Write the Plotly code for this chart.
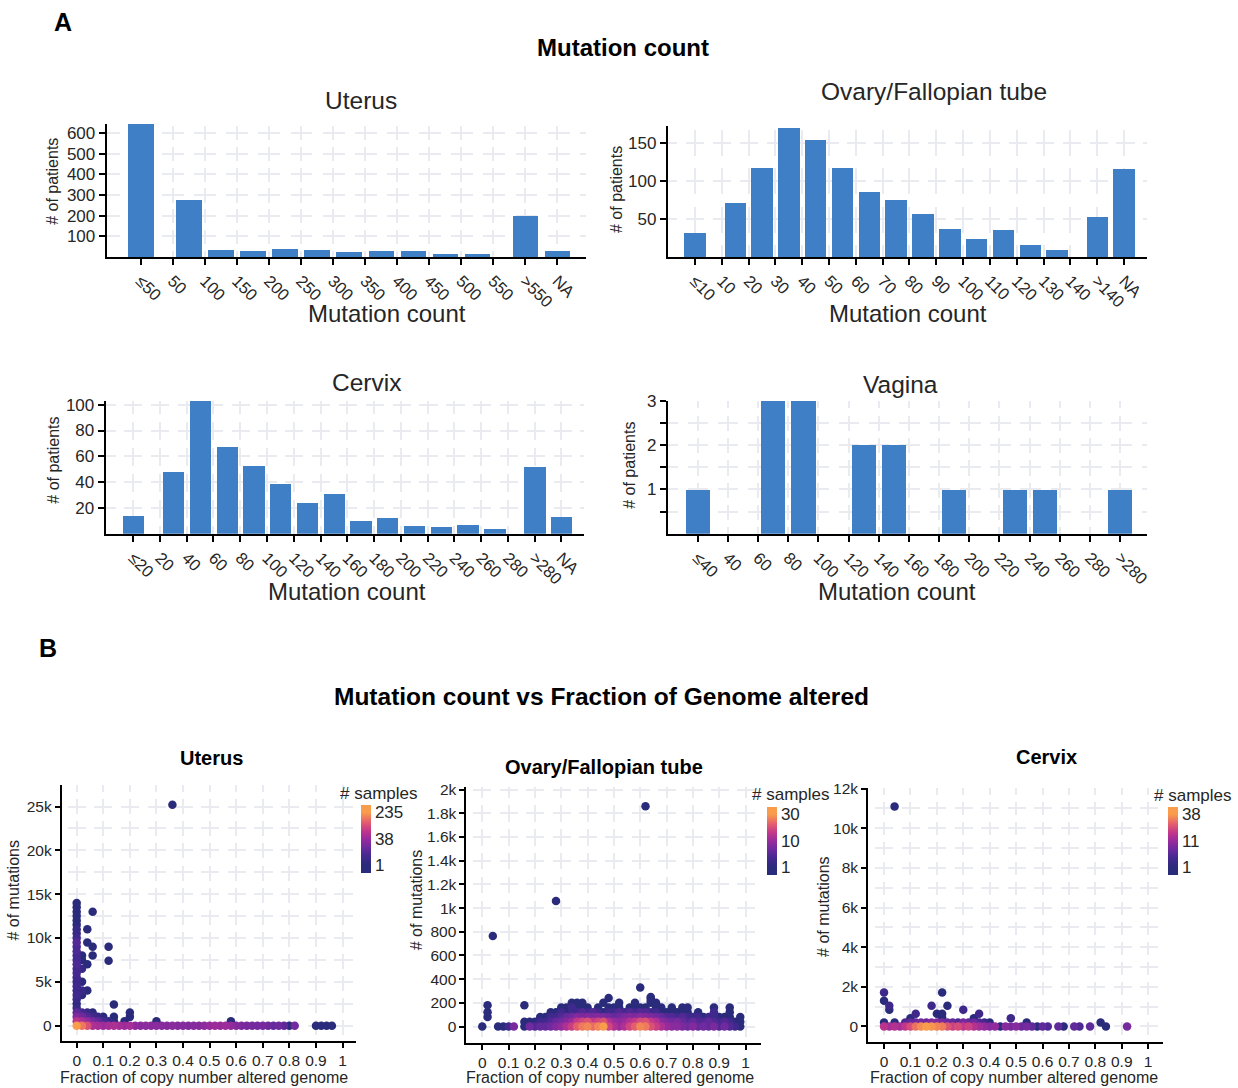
import numpy as np
import plotly.graph_objects as go

W, H = 1238, 1088
FONT = "Arial, Liberation Sans, Helvetica, sans-serif"
TXT = "#262626"
BAR = "#3f7fc5"
GRID = "#e9ebf0"

# ---------------- Panel A : histogram data ----------------
uterus_ticks = ["≤50", "50", "100", "150", "200", "250", "300", "350", "400", "450", "500", "550", ">550", "NA"]
uterus_bins = ["≤50", "50-100", "100-150", "150-200", "200-250", "250-300", "300-350", "350-400",
               "400-450", "450-500", "500-550", ">550", "NA"]
uterus_counts = [643, 276, 35, 31, 37, 32, 26, 27, 29, 14, 14, 196, 31]

ovary_ticks = ["≤10", "10", "20", "30", "40", "50", "60", "70", "80", "90", "100", "110", "120", "130", "140", ">140", "NA"]
ovary_bins = ["≤10", "10-20", "20-30", "30-40", "40-50", "50-60", "60-70", "70-80", "80-90", "90-100",
              "100-110", "110-120", "120-130", "130-140", ">140", "NA"]
ovary_counts = [32, 71, 117, 169, 154, 117, 85, 75, 56, 37, 23, 36, 16, 9, 53, 116]

cervix_ticks = ["≤20", "20", "40", "60", "80", "100", "120", "140", "160", "180", "200", "220", "240", "260", "280", ">280", "NA"]
cervix_bins = ["≤20", "20-40", "40-60", "60-80", "80-100", "100-120", "120-140", "140-160", "160-180",
               "180-200", "200-220", "220-240", "240-260", "260-280", ">280", "NA"]
cervix_counts = [14, 48, 103, 67, 53, 39, 24, 31, 10, 12, 6, 5, 7, 4, 52, 13]

vagina_ticks = ["≤40", "40", "60", "80", "100", "120", "140", "160", "180", "200", "220", "240", "260", "280", ">280"]
vagina_bins = ["≤40", "40-60", "60-80", "80-100", "100-120", "120-140", "140-160", "160-180", "180-200",
               "200-220", "220-240", "240-260", "260-280", ">280"]
vagina_counts = [1, 0, 3, 3, 0, 2, 2, 0, 1, 0, 1, 1, 0, 1]

# ---------------- Panel B : hexbin-like scatter data ----------------
xbins = [0.00, 0.02, 0.04, 0.06, 0.08, 0.10, 0.12, 0.14, 0.16, 0.18,
         0.20, 0.22, 0.24, 0.26, 0.28, 0.30, 0.32, 0.34, 0.36, 0.38,
         0.40, 0.42, 0.44, 0.46, 0.48, 0.50, 0.52, 0.54, 0.56, 0.58,
         0.60, 0.62, 0.64, 0.66, 0.68, 0.70, 0.72, 0.74, 0.76, 0.78,
         0.80, 0.82, 0.84, 0.86, 0.88, 0.90, 0.92, 0.94, 0.96, 0.98]

# Uterus
uterus_rows_y = [0, 500, 1000, 1500]
uterus_row_0 = [235, 160, 100, 50, 45, 40, 45, 50, 45, 40, 45, 30, 25, 28, 25, 28, 24, 22, 25, 22,
                24, 20, 24, 22, 28, 35, 40, 36, 40, 32, 22, 18, 16, 15, 14, 16, 12, 10, 12, 8,
                1, 14, 0, 0, 0, 1, 1, 1, 1, 0]
uterus_row_500 = [60, 45, 30, 15, 8, 4, 2, 1, 0, 1, 0, 0, 0, 0, 0, 1, 0, 0, 0, 0,
                  0, 0, 0, 0, 0, 0, 0, 0, 0, 1, 0, 0, 0, 0, 0, 0, 0, 0, 0, 0,
                  0, 0, 0, 0, 0, 0, 0, 0, 0, 0]
uterus_row_1000 = [20, 12, 6, 3, 2, 1, 0, 1, 0, 0, 1, 0, 0, 0, 0, 0, 0, 0, 0, 0,
                   0, 0, 0, 0, 0, 0, 0, 0, 0, 0, 0, 0, 0, 0, 0, 0, 0, 0, 0, 0,
                   0, 0, 0, 0, 0, 0, 0, 0, 0, 0]
uterus_row_1500 = [8, 4, 2, 1, 0, 0, 0, 0, 0, 0, 1, 0, 0, 0, 0, 0, 0, 0, 0, 0,
                   0, 0, 0, 0, 0, 0, 0, 0, 0, 0, 0, 0, 0, 0, 0, 0, 0, 0, 0, 0,
                   0, 0, 0, 0, 0, 0, 0, 0, 0, 0]
uterus_sparse_x = [0, 0, 0, 0, 0, 0, 0, 0, 0, 0, 0, 0, 0, 0, 0, 0, 0, 0, 0, 0, 0, 0, 0, 0, 0,
                   0.02, 0.02, 0.02, 0.02, 0.02, 0.02, 0.04, 0.04, 0.04, 0.04,
                   0.06, 0.06, 0.06, 0.12, 0.12, 0.14, 0.36]
uterus_sparse_y = [2000, 2500, 3000, 3500, 4000, 4500, 5000, 5500, 6000, 6500, 7000, 7500, 8000,
                   8500, 9000, 9500, 10000, 10500, 11000, 11500, 12000, 12500, 13000, 13500, 14000,
                   8000, 7500, 6500, 5000, 4000, 3500, 11000, 9500, 7000, 4000,
                   13000, 9000, 8000, 9000, 7400, 2400, 25200]
uterus_sparse_c = [2, 1, 2, 3, 2, 3, 2, 3, 4, 3, 5, 4, 3, 5, 4, 6, 3, 2, 2, 1, 1, 1, 1, 1, 1,
                   1, 1, 2, 1, 2, 1, 1, 1, 1, 1,
                   1, 1, 1, 1, 1, 1, 1]
uterus_cb_ticks = [1, 38, 235]

# Ovary / Fallopian tube
ovary_rows_y = [0, 40, 80, 120, 160, 200, 240]
ovary_row_0 = [1, 0, 0, 1, 1, 2, 6, 0, 1, 5, 3, 4, 4, 5, 7, 9, 12, 15, 20, 24,
               26, 22, 26, 30, 16, 12, 10, 12, 16, 20, 26, 24, 18, 15, 12, 10, 8, 8, 6, 5,
               7, 4, 5, 4, 6, 3, 5, 3, 2, 1]
ovary_row_40 = [0, 0, 0, 0, 0, 0, 0, 0, 1, 1, 1, 2, 2, 3, 4, 5, 7, 10, 14, 16,
                18, 14, 16, 18, 12, 10, 8, 10, 12, 14, 17, 18, 14, 12, 8, 6, 5, 6, 4, 3,
                4, 3, 3, 4, 3, 2, 3, 2, 1, 1]
ovary_row_80 = [0, 1, 0, 0, 0, 0, 0, 0, 0, 0, 0, 1, 1, 2, 2, 3, 4, 5, 7, 6,
                7, 6, 7, 6, 5, 4, 5, 6, 7, 6, 8, 7, 6, 5, 4, 3, 3, 2, 3, 2,
                2, 2, 1, 2, 2, 1, 1, 1, 0, 1]
ovary_row_120 = [0, 1, 0, 0, 0, 0, 0, 0, 0, 0, 0, 0, 0, 1, 1, 2, 1, 2, 2, 3,
                 2, 3, 2, 1, 2, 2, 3, 2, 3, 2, 3, 3, 2, 2, 1, 1, 1, 1, 1, 1,
                 0, 1, 0, 0, 2, 0, 0, 1, 0, 0]
ovary_row_160 = [0, 0, 0, 0, 0, 0, 0, 0, 0, 0, 0, 0, 0, 0, 0, 1, 1, 2, 1, 1,
                 1, 0, 1, 0, 1, 1, 1, 0, 1, 1, 1, 1, 0, 1, 1, 0, 1, 0, 1, 1,
                 0, 0, 0, 0, 1, 0, 0, 1, 0, 0]
ovary_row_200 = [0, 0, 0, 0, 0, 0, 0, 0, 0, 0, 0, 0, 0, 0, 0, 0, 0, 1, 1, 1,
                 0, 0, 0, 1, 0, 0, 1, 0, 0, 1, 0, 0, 1, 1, 0, 0, 0, 0, 0, 0,
                 0, 0, 0, 0, 0, 0, 0, 0, 0, 0]
ovary_row_240 = [0, 0, 0, 0, 0, 0, 0, 0, 0, 0, 0, 0, 0, 0, 0, 0, 0, 0, 0, 0,
                 0, 0, 0, 0, 1, 0, 0, 0, 0, 0, 0, 0, 1, 0, 0, 0, 0, 0, 0, 0,
                 0, 0, 0, 0, 0, 0, 0, 0, 0, 0]
ovary_sparse_x = [0.02, 0.04, 0.28, 0.62, 0.60, 0.64, 0.64, 0.16]
ovary_sparse_y = [180, 765, 1060, 1860, 330, 250, 220, 180]
ovary_sparse_c = [1, 1, 1, 1, 1, 1, 1, 1]
ovary_cb_ticks = [1, 10, 30]

# Cervix
cervix_rows_y = [0, 200]
cervix_row_0 = [15, 12, 14, 12, 16, 20, 28, 34, 38, 36, 32, 30, 22, 18, 20, 16, 18, 14, 12, 10,
                8, 10, 1, 8, 6, 8, 5, 6, 4, 1, 4, 3, 0, 4, 1, 0, 4, 3, 0, 4,
                0, 0, 1, 0, 0, 0, 6, 0, 0, 0]
cervix_row_200 = [1, 0, 1, 0, 3, 4, 5, 6, 5, 8, 7, 6, 5, 4, 3, 6, 4, 5, 3, 2,
                  1, 0, 0, 0, 0, 0, 0, 1, 0, 0, 0, 0, 0, 0, 0, 0, 0, 0, 0, 0,
                  0, 1, 0, 0, 0, 0, 0, 0, 0, 0]
cervix_sparse_x = [0.04, 0, 0, 0.02, 0.02, 0.22, 0.18, 0.24, 0.30, 0.20, 0.22, 0.22, 0.12, 0.10, 0.36, 0.34, 0.48]
cervix_sparse_y = [11100, 1720, 1300, 1050, 840, 1720, 1050, 1050, 840, 640, 640, 450, 640, 420, 640, 420, 420]
cervix_sparse_c = [1, 2, 1, 2, 1, 1, 2, 1, 2, 1, 1, 1, 2, 1, 2, 1, 2]
cervix_cb_ticks = [1, 11, 38]

frac_ticks = [0, 0.1, 0.2, 0.3, 0.4, 0.5, 0.6, 0.7, 0.8, 0.9, 1]
frac_labels = ["0", "0.1", "0.2", "0.3", "0.4", "0.5", "0.6", "0.7", "0.8", "0.9", "1"]

BASE_SCALE = [[0.0, "#2a2b7b"], [0.18, "#43298f"], [0.35, "#6e2a9e"], [0.5, "#982b9c"],
              [0.65, "#c1368b"], [0.82, "#e45f6c"], [1.0, "#f99c4c"]]
CB_PAD = 0.14
COLORSCALE = ([[0.0, BASE_SCALE[0][1]]] +
              [[(p + CB_PAD) / (1 + 2 * CB_PAD), c] for p, c in BASE_SCALE] +
              [[1.0, BASE_SCALE[-1][1]]])


# ---------------- helpers ----------------
def fy(p):
    """vertical pixel correction for the page"""
    return p - (9 - 8.5 * p / H)


def dash_pattern(offset, period, frac=0.68):
    d = frac * period
    start = (offset - d / 2) % period
    if start + d <= period:
        vals = [0, start, d, period - start - d]
    else:
        a = start + d - period
        vals = [a, period - d, period - start, 0]
    return ",".join(f"{v:.2f}px" for v in vals)


def bar_positions(ticks, bins):
    pos = []
    for b in bins:
        if "-" in b:
            pos.append(ticks.index(b.split("-")[0]) + 0.5)
        else:
            pos.append(ticks.index(b))
    return pos


def base_axis(fs):
    return dict(showline=True, linecolor="black", linewidth=2, ticks="outside", ticklen=6,
                tickwidth=1.5, tickcolor="black", zeroline=False, showgrid=True,
                gridcolor=GRID, gridwidth=1.6, layer="below traces",
                tickfont=dict(family=FONT, size=fs, color=TXT))


def names(k):
    s = "" if k == 1 else str(k)
    return "x" + s, "y" + s, "xaxis" + s, "yaxis" + s


fig = go.Figure()
layout_axes = {}


def add_hist(k, ticks, bins, counts, xr, box, yr, ytv, ytt):
    L, T, R, B = box
    T, B = fy(T), fy(B)
    xn, yn, xk, yk = names(k)
    ppx = (R - L) / (xr[1] - xr[0])
    ppy = (B - T) / (yr[1] - yr[0])
    hdash = dash_pattern((0 - xr[0]) * ppx, ppx)
    vdash = dash_pattern((yr[1] - max(ytv)) * ppy, (ytv[1] - ytv[0]) * ppy)
    fig.add_trace(go.Bar(x=bar_positions(ticks, bins), y=counts, width=0.8,
                         marker=dict(color=BAR, line=dict(width=0)),
                         xaxis=xn, yaxis=yn, showlegend=False, hoverinfo="skip"))
    xa = base_axis(16.5)
    xa.update(domain=[L / W, R / W], range=xr, tickvals=list(range(len(ticks))), ticktext=ticks,
              tickangle=45, anchor=yn, griddash=vdash)
    ya = base_axis(17)
    ya.update(domain=[1 - B / H, 1 - T / H], range=yr, tickvals=ytv, ticktext=ytt,
              anchor=xn, griddash=hdash)
    layout_axes[xk] = xa
    layout_axes[yk] = ya


def hex_points(rows_y, rows, sx, sy, sc):
    X, Y, C = [], [], []
    for yv, row in zip(rows_y, rows):
        for xv, c in zip(xbins, row):
            if c > 0:
                X.append(xv); Y.append(yv); C.append(c)
    X += sx; Y += sy; C += sc
    order = np.argsort(np.array(C), kind="stable")
    return (np.array(X)[order], np.array(Y)[order], np.array(C)[order])


def add_scatter(k, rows_y, rows, sx, sy, sc, cbt, xr, box, yr, ytv, ytt, gstep, cax, cbbox):
    L, T, R, B = box
    T, B = fy(T), fy(B)
    xn, yn, xk, yk = names(k)
    X, Y, C = hex_points(rows_y, rows, sx, sy, sc)
    t = np.interp(np.log(C), np.log(cbt), [0, 0.5, 1])
    fig.add_trace(go.Scatter(x=X, y=Y, mode="markers",
                             marker=dict(size=8.5, color=t, coloraxis=cax, line=dict(width=0)),
                             xaxis=xn, yaxis=yn, showlegend=False, hoverinfo="skip"))
    ppx = (R - L) / (xr[1] - xr[0])
    ppy = (B - T) / (yr[1] - yr[0])
    hdash = dash_pattern((0 - xr[0]) * ppx, 0.1 * ppx)
    top = np.floor(yr[1] / gstep) * gstep
    vdash = dash_pattern((yr[1] - top) * ppy, gstep * ppy)
    xa = base_axis(15.5)
    xa.update(domain=[L / W, R / W], range=xr, tickvals=frac_ticks, ticktext=frac_labels,
              anchor=yn, griddash=vdash, ticklen=5)
    ya = base_axis(15.5)
    ya.update(domain=[1 - B / H, 1 - T / H], range=yr, tickvals=ytv, ticktext=ytt,
              anchor=xn, griddash=hdash, ticklen=5,
              minor=dict(dtick=gstep, tick0=0, showgrid=True, gridcolor=GRID, gridwidth=1.6,
                         griddash=hdash, ticks=""))
    layout_axes[xk] = xa
    layout_axes[yk] = ya
    cl, ct, cb_len = cbbox
    layout_axes[cax] = dict(cmin=-CB_PAD, cmax=1 + CB_PAD, colorscale=COLORSCALE,
                            colorbar=dict(x=cl / W, xanchor="left", y=1 - fy(ct) / H, yanchor="top",
                                          len=cb_len, lenmode="pixels", thickness=10,
                                          thicknessmode="pixels", xpad=0, ypad=0, outlinewidth=0,
                                          tickvals=[0, 0.5, 1], ticktext=[str(v) for v in cbt],
                                          ticks="", tickfont=dict(family=FONT, size=17, color=TXT)))


# ---------------- build panels ----------------
add_hist(1, uterus_ticks, uterus_bins, uterus_counts, [-1.06, 13.9], (107, 124, 588, 257),
         [0, 643], [100, 200, 300, 400, 500, 600], ["100", "200", "300", "400", "500", "600"])
add_hist(2, ovary_ticks, ovary_bins, ovary_counts, [-1.01, 16.87], (670, 126, 1151, 257),
         [0, 172], [50, 100, 150], ["50", "100", "150"])
add_hist(3, cervix_ticks, cervix_bins, cervix_counts, [-1.03, 16.85], (106, 401, 586, 534),
         [0, 103], [20, 40, 60, 80, 100], ["20", "40", "60", "80", "100"])
add_hist(4, vagina_ticks, vagina_bins, vagina_counts, [-0.99, 14.9], (670, 401, 1151, 534),
         [0, 3], [0.5, 1, 1.5, 2, 2.5, 3], ["", "1", "", "2", "", "3"])

add_scatter(5, uterus_rows_y, [uterus_row_0, uterus_row_500, uterus_row_1000, uterus_row_1500],
            uterus_sparse_x, uterus_sparse_y, uterus_sparse_c, uterus_cb_ticks,
            [-0.056, 1.05], (62, 785, 357, 1041), [-1700, 27500],
            [0, 5000, 10000, 15000, 20000, 25000], ["0", "5k", "10k", "15k", "20k", "25k"],
            2500, "coloraxis", (362, 805, 68))
add_scatter(6, ovary_rows_y, [ovary_row_0, ovary_row_40, ovary_row_80, ovary_row_120,
                              ovary_row_160, ovary_row_200, ovary_row_240],
            ovary_sparse_x, ovary_sparse_y, ovary_sparse_c, ovary_cb_ticks,
            [-0.06, 1.057], (468, 787, 763, 1043), [-135, 2025],
            [0, 200, 400, 600, 800, 1000, 1200, 1400, 1600, 1800, 2000],
            ["0", "200", "400", "600", "800", "1k", "1.2k", "1.4k", "1.6k", "1.8k", "2k"],
            200, "coloraxis2", (769, 807, 68))
add_scatter(7, cervix_rows_y, [cervix_row_0, cervix_row_200],
            cervix_sparse_x, cervix_sparse_y, cervix_sparse_c, cervix_cb_ticks,
            [-0.06, 1.057], (871, 788, 1167, 1042), [-760, 12050],
            [0, 2000, 4000, 6000, 8000, 10000, 12000], ["0", "2k", "4k", "6k", "8k", "10k", "12k"],
            1000, "coloraxis3", (1172, 807, 68))

# ---------------- text annotations ----------------
ann = []


def text(s, x, y, size, bold=False, angle=0, xanchor="center"):
    ann.append(dict(text=f"<b>{s}</b>" if bold else s, x=x / W, y=1 - fy(y) / H, xref="paper",
                    yref="paper", showarrow=False, xanchor=xanchor, yanchor="middle",
                    textangle=angle, font=dict(family=FONT, size=size,
                                               color="black" if bold else TXT)))


text("A", 63, 22, 25, bold=True)
text("B", 48, 648, 25, bold=True)
text("Mutation count", 625, 47, 24, bold=True)
text("Mutation count vs Fraction of Genome altered", 603, 697, 24.5, bold=True)

for s, x, y in [("Uterus", 362, 100), ("Ovary/Fallopian tube", 937, 91),
                ("Cervix", 368, 383), ("Vagina", 903, 385)]:
    text(s, x, y, 24.5)
for x, y in [(388, 314), (911, 314), (348, 592), (900, 592)]:
    text("Mutation count", x, y, 24)
for x, y in [(53, 181), (619, 190), (54, 460), (632, 465)]:
    text("# of patients", x, y, 16, angle=-90)

for s, x, y in [("Uterus", 212, 758), ("Ovary/Fallopian tube", 606, 767), ("Cervix", 1050, 757)]:
    text(s, x, y, 20, bold=True)
for x in [205, 612, 1017]:
    text("Fraction of copy number altered genome", x, 1078, 16)
for x, y in [(14, 890), (418, 900), (826, 907)]:
    text("# of mutations", x, y, 16, angle=-90)
for x, y in [(380, 794), (793, 795), (1196, 796)]:
    text("# samples", x, y, 17)

fig.update_layout(width=W, height=H, autosize=False, margin=dict(l=0, r=0, t=0, b=0),
                  paper_bgcolor="white", plot_bgcolor="white", showlegend=False,
                  font=dict(family=FONT, color=TXT), annotations=ann, bargap=0, **layout_axes)

fig.write_html("out.html")
